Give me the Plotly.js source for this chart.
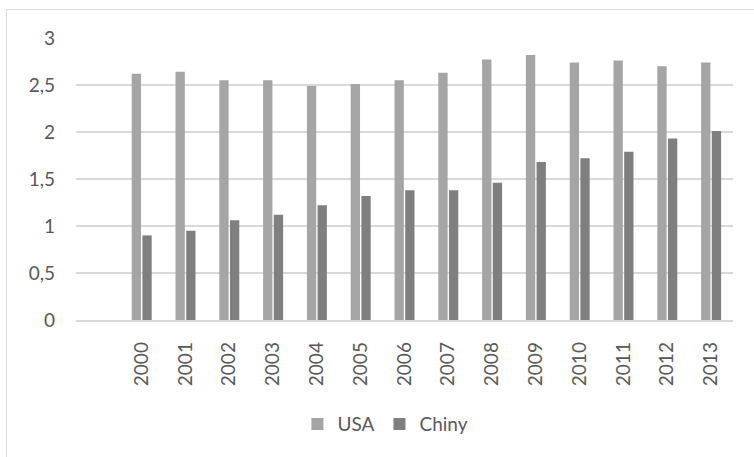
<!DOCTYPE html>
<html>
<head>
<meta charset="utf-8">
<script src="https://cdn.plot.ly/plotly-3.0.1.min.js"></script>
<style>
  html, body { margin: 0; padding: 0; overflow: hidden; background: #fff; }
  #wrap { position: relative; width: 754px; height: 457px; }
  #frame { position: absolute; left: 6px; top: 9px; width: 800px; height: 500px;
           border: 1px solid #D9D9D9; box-sizing: border-box; pointer-events: none; z-index: 2; }
  #chart { position: absolute; left: 0; top: 0; width: 754px; height: 457px; }
</style>
</head>
<body>
<div id="wrap">
  <div id="chart"></div>
  <div id="frame"></div>
</div>
<script>
// Years shown on the category axis
const years = [2000, 2001, 2002, 2003, 2004, 2005, 2006, 2007, 2008, 2009, 2010, 2011, 2012, 2013];
const yearLabels = years.map(String);

// Series values
const usa   = [2.62, 2.64, 2.55, 2.55, 2.49, 2.51, 2.55, 2.63, 2.77, 2.82, 2.74, 2.76, 2.70, 2.74];
const chiny = [0.90, 0.95, 1.06, 1.12, 1.22, 1.32, 1.38, 1.38, 1.46, 1.68, 1.72, 1.79, 1.93, 2.01];

// Value axis ticks
const yTicks = [0, 0.5, 1, 1.5, 2, 2.5, 3];
const yTickText = ['0', '0,5', '1', '1,5', '2', '2,5', '3'];

const font = 'Lato, "Open Sans", sans-serif';

const traces = [
  { type: 'bar', name: 'USA', x: years, y: usa,
    marker: { color: '#A5A5A5' }, hoverinfo: 'skip' },
  { type: 'bar', name: 'Chiny', x: years, y: chiny,
    marker: { color: '#7F7F7F' }, hoverinfo: 'skip' }
];

const layout = {
  width: 754, height: 457,
  margin: { l: 76, r: 21, t: 38, b: 137 },
  paper_bgcolor: '#FFFFFF',
  plot_bgcolor: '#FFFFFF',
  font: { family: font, size: 19, color: '#595959' },
  barmode: 'group',
  bargap: 0.513,
  bargroupgap: 0.127,
  showlegend: true,
  legend: {
    orientation: 'h',
    x: 0.337, xanchor: 'left',
    y: -0.369, yanchor: 'middle',
    font: { family: font, size: 19, color: '#595959' },
    bgcolor: 'rgba(0,0,0,0)',
    traceorder: 'normal'
  },
  xaxis: {
    type: 'linear',
    range: [1998.5, 2013.5],
    tickvals: years,
    ticktext: yearLabels,
    tickangle: -90,
    ticks: '',
    ticklabelstandoff: 13,
    showgrid: false,
    zeroline: false,
    showline: true,
    linecolor: '#D9D9D9',
    linewidth: 1.5,
    fixedrange: true
  },
  yaxis: {
    range: [0, 3],
    tickvals: yTicks,
    ticktext: yTickText,
    ticks: '',
    ticklabelstandoff: 20,
    showgrid: true,
    gridcolor: '#D9D9D9',
    gridwidth: 1.3,
    zeroline: false,
    showline: false,
    fixedrange: true
  }
};

Plotly.newPlot('chart', traces, layout, { displayModeBar: false, staticPlot: true });
</script>
</body>
</html>
